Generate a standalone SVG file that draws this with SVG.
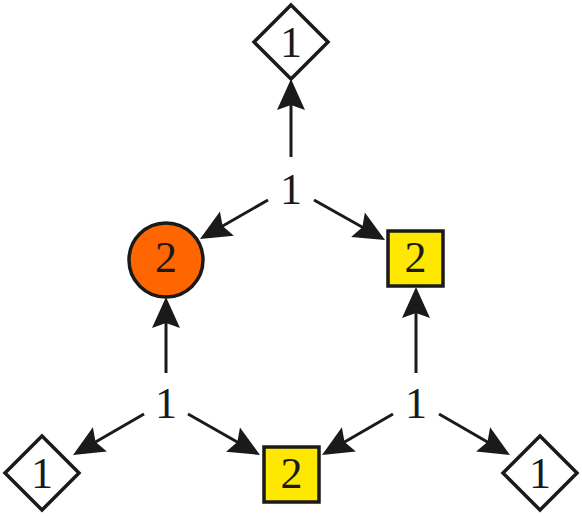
<svg xmlns="http://www.w3.org/2000/svg" width="582" height="516" viewBox="0 0 582 516">
<style>
.lbl{font-family:"Liberation Serif","DejaVu Serif",serif;font-size:44px;fill:#1a1a1a;text-anchor:middle}
.edge{stroke:#1a1a1a;stroke-width:3;fill:none;marker-end:url(#ah)}
.dia{fill:#fff;stroke:#1a1a1a;stroke-width:3.5}
.sq{fill:#FFE800;stroke:#1a1a1a;stroke-width:3.5}
.circ{fill:#FF6600;stroke:#1a1a1a;stroke-width:3.5}
</style>
<defs>
<marker id="ah" markerUnits="userSpaceOnUse" viewBox="-1 -16 35 32" markerWidth="35" markerHeight="32" refX="21" refY="0" orient="auto">
<path d="M0,-14 L31,0 L0,14 L5,0 Z" fill="#1a1a1a"/>
</marker>
</defs>
<rect width="582" height="516" fill="#fff"/>
<g id="connectors">
<line class="edge" x1="291" y1="157" x2="291" y2="89"/>
<line class="edge" x1="268" y1="200" x2="208.7" y2="234"/>
<line class="edge" x1="314" y1="200" x2="376.3" y2="235"/>
<line class="edge" x1="166" y1="373" x2="166" y2="307"/>
<line class="edge" x1="416" y1="373" x2="416" y2="297"/>
<line class="edge" x1="144" y1="414" x2="81.7" y2="450"/>
<line class="edge" x1="188" y1="414" x2="251.3" y2="450"/>
<line class="edge" x1="393" y1="414" x2="330.7" y2="450"/>
<line class="edge" x1="439" y1="414" x2="501.3" y2="450"/>
</g>
<g id="n_top1"><text class="lbl" x="291" y="204">1</text></g>
<g id="n_bl1"><text class="lbl" x="166" y="418">1</text></g>
<g id="n_br1"><text class="lbl" x="416" y="418">1</text></g>
<g id="n_topdia"><polygon class="dia" points="291,5 328,42 291,79 254,42"/><text class="lbl" x="291" y="57">1</text></g>
<g id="n_leftdia"><polygon class="dia" points="42,436 79,473 42,510 5,473"/><text class="lbl" x="42" y="488">1</text></g>
<g id="n_rightdia"><polygon class="dia" points="540,436 577,473 540,510 503,473"/><text class="lbl" x="540" y="488">1</text></g>
<g id="n_circle"><circle class="circ" cx="166" cy="260" r="37"/><text class="lbl" x="166" y="272">2</text></g>
<g id="n_rsq"><rect class="sq" x="388" y="231" width="55" height="55"/><text class="lbl" x="415.5" y="272">2</text></g>
<g id="n_bsq"><rect class="sq" x="264" y="447" width="55" height="55"/><text class="lbl" x="291.5" y="488">2</text></g>
</svg>
